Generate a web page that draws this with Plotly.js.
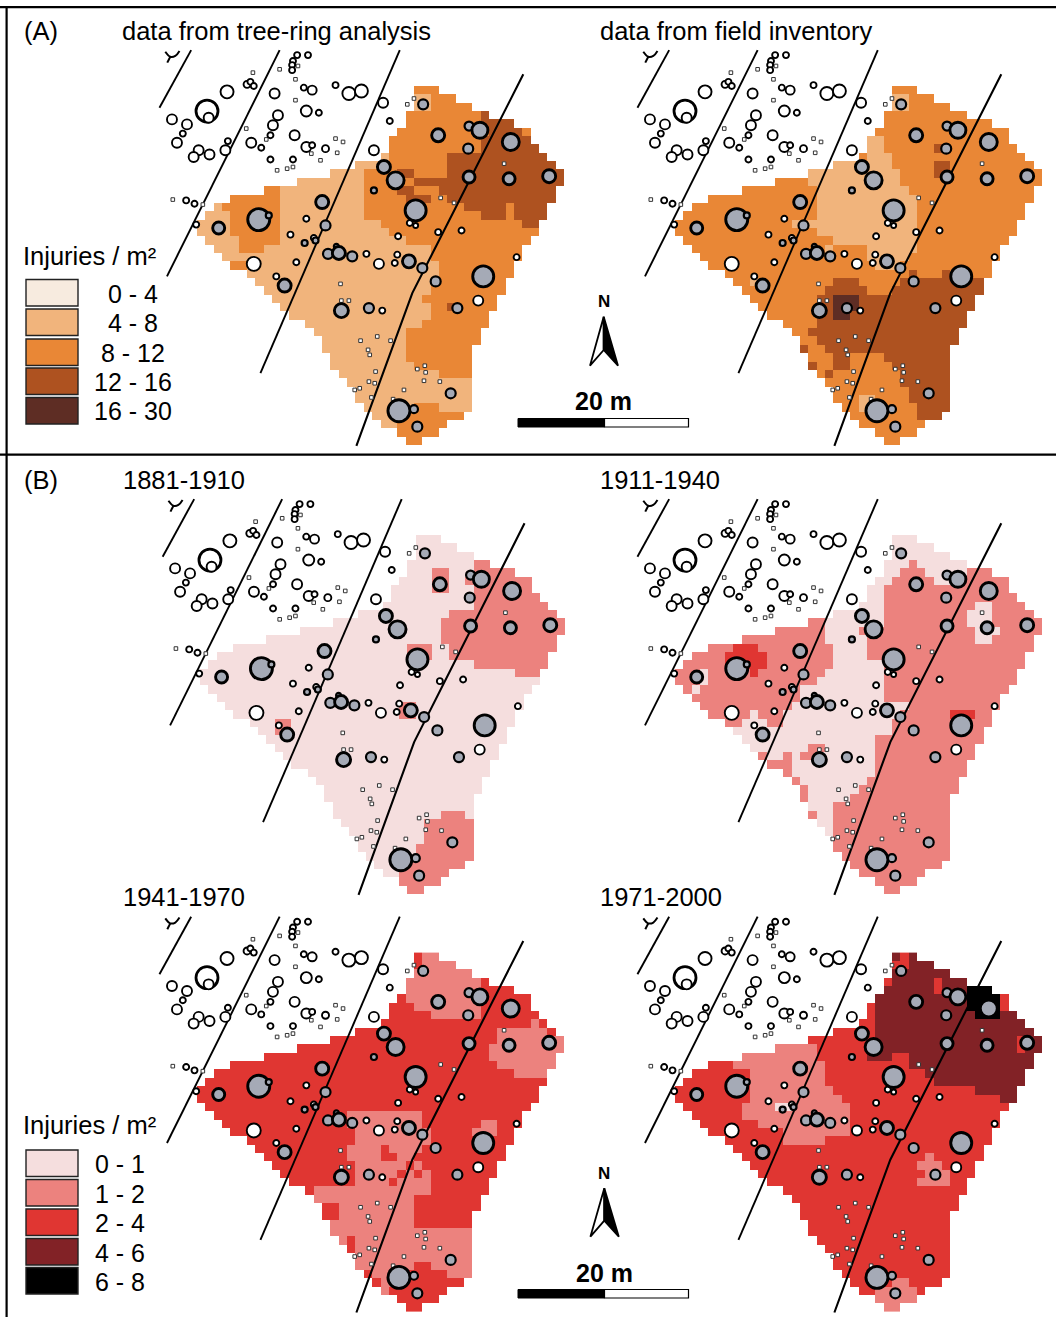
<!DOCTYPE html>
<html><head><meta charset="utf-8">
<script src="https://cdn.plot.ly/plotly-3.0.1.min.js"></script>
<style>html,body{margin:0;padding:0;background:#fff}</style></head>
<body><div id="chart"></div>
<script>
// ---- map outline: first and last+1 grid column (1 cell = 1 m) of every grid row ----
const rowLeft  = [26,26,26,25,25,24,23,23,22,19,16,12,8,4,2,1,0,0,1,2,3,4,6,7,8,9,10,11,13,14,15,15,16,16,17,18,19,19,20,21,22,24,25];
const rowRight = [29,31,33,35,38,40,40,41,42,43,44,44,43,43,42,42,41,41,40,39,39,38,38,37,37,36,36,35,35,34,34,33,33,33,33,33,33,33,33,32,30,29,27];

// ---- injury classes, as blocks of grid cells: [firstRow,lastRow,firstCol,endCol,class] ----
const treeRingBase = 1;
const treeRingBlocks = [
[0,7,0,44,2],[1,2,26,28,1],[8,9,23,44,2],[10,15,20,44,2],[16,16,22,44,2],[17,17,23,44,2],[18,18,25,44,2],
[19,20,28,44,2],[21,22,29,44,2],[23,24,28,44,2],[25,25,27,44,2],[26,27,28,44,2],[28,28,27,44,2],[29,32,25,44,2],
[33,33,26,44,2],[34,34,29,44,2],
[12,12,8,10,2],[13,13,4,10,2],[14,14,3,10,2],[15,17,4,10,2],[18,18,5,10,2],[19,19,5,8,2],[21,21,4,6,2],
[38,38,26,29,2],[39,39,24,32,2],[40,40,24,30,2],[41,41,24,29,2],[42,42,25,27,2],
[3,3,34,35,3],[4,4,34,38,3],[5,5,35,39,3],[6,7,34,44,3],[8,10,30,44,3],[11,11,26,44,3],[12,12,29,44,3],
[13,13,30,44,3],[14,14,32,44,3],[14,14,37,38,2],[15,15,34,37,3],[15,15,38,44,3],[16,16,39,44,3],
[10,10,24,26,3],[12,12,24,26,3],[13,13,25,28,3],[26,26,30,31,3]];

const fieldBase = 2;
const fieldBlocks = [
[1,2,26,28,1],[6,7,23,25,1],[8,8,23,26,1],[9,9,19,26,1],[10,10,16,27,1],[11,11,16,27,1],[12,12,17,28,1],
[13,14,17,29,1],[15,15,17,29,1],[16,16,16,29,1],[16,16,14,15,1],[17,17,17,29,1],[18,18,19,29,1],[19,19,18,19,1],[19,19,23,29,1],
[20,20,23,28,1],[21,21,24,27,1],[23,23,9,10,1],[37,38,22,24,1],
[7,7,31,32,3],[9,10,31,33,3],[22,22,28,29,3],[22,22,32,33,3],[23,23,19,22,3],[23,23,27,44,3],[24,24,18,23,3],[24,24,26,44,3],
[25,26,17,44,3],[27,28,17,44,3],[29,29,16,44,3],[30,30,17,44,3],[31,31,18,44,3],[31,31,15,16,3],[32,33,19,21,3],
[32,32,25,44,3],[33,33,26,44,3],[33,33,16,17,3],[34,34,18,19,3],[34,35,27,44,3],[36,37,28,44,3],[38,39,29,44,3],
[25,26,19,22,4],[27,27,19,21,4]];

const p1881Base = 0;
const p1881Blocks = [
[4,6,28,30,1],[5,5,32,33,1],[3,3,33,35,1],[4,4,33,38,1],[5,8,33,44,1],[9,9,30,44,1],[10,12,29,44,1],[13,14,30,44,1],
[15,15,33,44,1],[16,16,38,41,1],[13,14,25,28,1],[22,23,9,11,1],[20,21,24,26,1],
[33,33,29,32,1],[34,36,27,33,1],[37,38,26,33,1],[39,39,25,32,1],[40,41,24,30,1],[42,42,25,27,1]];

const p1911Base = 1;
const p1911Blocks = [
[0,2,0,44,0],[3,3,0,28,0],[3,3,29,44,0],[4,4,0,27,0],[4,4,30,35,0],[5,5,24,26,0],[5,5,31,34,0],[6,7,23,25,0],[8,8,22,25,0],
[9,9,19,25,0],[10,10,18,25,0],[11,11,18,22,0],[12,12,18,23,0],[13,14,19,23,0],[15,15,19,25,0],[16,16,18,25,0],[17,17,17,25,0],
[18,19,15,25,0],[20,20,14,28,0],[21,21,13,27,0],[21,21,9,10,0],[22,22,8,11,0],[22,22,13,26,0],[23,23,7,26,0],[24,24,8,24,0],
[25,25,9,24,0],[26,26,11,24,0],[27,28,14,24,0],[29,29,15,23,0],[30,30,16,22,0],[31,31,16,21,0],[32,32,16,19,0],[33,34,17,19,0],[35,35,18,19,0],
[25,25,16,18,1],[26,26,15,17,1],[26,26,13,14,1],[27,27,11,14,1],
[16,17,3,4,0],[18,18,2,3,0],[8,8,36,38,0],[9,10,35,38,0],[11,11,36,39,0],[12,12,36,38,0],
[13,13,7,10,2],[14,15,6,11,2],[16,16,9,10,2],[21,21,33,36,2]];

const p1941Base = 2;
const p1941Blocks = [
[0,0,27,29,1],[1,1,27,31,1],[2,2,26,33,1],[3,5,25,34,1],[6,6,26,34,1],[7,7,28,34,1],
[8,8,40,41,1],[9,9,36,42,1],[10,10,36,44,1],[11,12,35,44,1],[13,13,36,44,1],[14,14,38,44,1],
[19,20,18,27,1],[21,22,19,28,1],[23,24,18,22,1],[23,23,23,27,1],[24,24,24,26,1],[25,25,19,25,1],[25,25,26,27,1],
[26,26,19,24,1],[26,26,25,26,1],[26,26,27,28,1],[27,27,19,23,1],[27,27,24,28,1],[28,28,14,28,1],[29,29,14,26,1],
[30,32,17,26,1],[32,32,16,17,1],[33,37,16,33,1],[34,36,18,19,2],[38,38,21,33,1],[39,39,22,33,1],[40,40,22,33,1],[41,41,24,33,1],
[37,37,26,28,2],[38,38,25,30,2],[39,39,24,32,2],[40,40,23,31,2],[41,41,24,29,2],[42,42,25,27,2],
[20,20,34,36,1],[21,21,33,36,1]];

const p1971Base = 2;
const p1971Blocks = [
[0,0,26,27,3],[0,1,28,31,3],[2,2,26,33,3],[3,3,26,31,3],[3,3,32,35,3],[4,4,25,31,3],[4,4,32,35,3],[5,5,24,35,3],[6,6,24,36,3],
[7,10,24,44,3],[10,11,41,42,2],[11,11,24,41,3],[11,11,42,44,3],[12,12,23,26,3],[12,12,28,44,3],[13,13,28,44,3],[14,14,30,44,3],
[15,15,31,44,3],[16,16,36,41,3],[17,17,39,41,3],
[4,4,35,38,4],[5,6,35,39,4],[7,7,36,39,4],
[11,11,12,17,1],[12,12,8,17,1],[13,13,7,18,1],[14,15,9,18,1],[16,16,9,19,1],[17,17,9,20,1],[18,19,8,21,1],[20,20,10,21,1],
[21,21,13,21,1],[22,22,13,18,1],[18,18,12,14,0],
[24,24,30,31,1],[25,25,29,32,1],[26,26,30,33,1],[27,27,29,33,1],
[39,39,26,28,1],[40,41,24,29,1],[42,42,25,27,1]];

// ---- trees (x east, y south, in metres on the same grid; diameter as drawn) ----
const saplingX = [12.1,9.9,6.7,11.8,11.8,5.9,8.3,16.6,17.5,13.7,13.7,16.8,14.8,9.6,10.8,11.5,-2.9,0.7,25.2,26.0,29.2,30.8,36.8,17.2,17.3,18.2,21.6,19.6,23.2,20.5,20.7,21.4,20.6,21.3,26.4,27.3,27.4,27.2,29.1,24.8,18.9,19.5,20.9,23.5];
const saplingY = [-2.4,-2.0,-1.6,-0.8,1.7,5.1,6.4,6.3,6.7,7.0,8.1,8.0,8.9,10.1,9.9,9.7,13.6,14.2,2.2,1.5,13.4,14.0,9.3,23.7,25.7,25.7,30.0,30.5,30.5,31.6,32.2,34.2,35.4,35.6,33.9,33.5,34.3,35.3,35.4,36.4,36.4,36.2,37.3,37.5];

const openX = [12.0,13.3,11.5,11.4,11.4,6.0,6.4,6.8,3.6,1.2,1.4,-3.0,-1.2,-1.7,-2.4,3.7,3.4,0.2,-0.4,1.5,9.3,12.8,13.8,16.6,18.2,19.7,13.1,14.6,9.7,9.1,8.8,6.5,7.7,11.7,13.1,13.8,15.4,8.8,11.5,22.3,23.1,21.2,-1.3,-0.3,-0.1,13.1,11.2,14.0,11.9,9.5,6.8,25.5,26.2,28.9,31.7,24.1,20.3,24.0,23.7,22.2,33.7,38.3,21.8];
const openY = [-3.7,-3.7,-3.0,-2.5,-1.9,-0.2,-0.5,0.0,0.7,3.0,3.8,4.0,4.6,5.7,6.8,6.6,7.7,7.7,8.5,8.2,0.9,0.2,0.5,-0.1,0.9,0.6,3.0,3.2,3.5,4.7,5.9,6.8,7.4,5.9,7.3,7.1,7.5,8.8,8.8,2.0,4.2,7.7,13.7,14.1,16.6,15.9,17.8,18.2,21.1,22.8,21.3,16.4,16.7,17.5,17.3,18.0,20.1,20.2,21.2,26.9,25.7,20.5,21.3];
const openD = [6,6,6,6,6,7,6,6,13,22,10,10,10,6,10,6,10,10,10,10,10,6,9,6,13,13,11,6,10,10,6,10,6,10,10,6,7,6,6,10,6,10,6,6,6,6,6,6,6,6,14,6,5,6,6,6,6,6,6,6,10,6,10];

const injuredX = [27.1,28.9,32.6,33.9,37.6,32.5,32.6,37.4,42.2,22.4,23.8,21.2,26.2,15.0,15.4,7.4,8.6,2.6,12.9,14.2,16.7,15.7,17.0,18.6,25.4,27.0,28.6,34.3,10.5,17.3,20.6,31.2,30.4,24.2,26.0,26.4];
const injuredY = [2.2,5.9,4.8,5.3,6.7,7.5,10.9,11.1,10.8,9.7,11.3,12.5,14.9,13.9,16.7,16.0,15.5,17.0,18.8,18.5,19.2,20.1,20.0,20.4,21.0,21.8,23.4,22.8,23.9,26.9,26.6,26.6,36.8,38.9,38.7,40.8];
const injuredD = [10,13,9,17,18,10,12,12,13,13,18,6,22,13,10,23,6,12,6,6,5,10,13,10,13,10,10,22,13,14,10,10,10,23,8,10];

// ---- transect lines and the small tick mark ----
const lineAX = [-0.7,-4.5], lineAY = [-4.3,2.6];
const lineBX = [9.9,-3.6],  lineBY = [-4.3,22.8];
const lineCX = [24.3,7.6],  lineCY = [-4.3,34.4];
const lineDX = [39.1,26.4,25.8,19.1], lineDY = [-1.4,23.6,24.8,43.1];
const tickX = [-3.8,-3.2,-2.6,-2.1], tickY = [-4.1,-3.5,-3.6,-4.2];
const stemX = [-3.2,-3.56], stemY = [-3.5,-2.8];

// ---- labels ----
const titles = ["data from tree-ring analysis","data from field inventory","1881-1910","1911-1940","1941-1970","1971-2000"];
const classLabelsA = ["0 - 4","4 - 8","8 - 12","12 - 16","16 - 30"];
const classLabelsB = ["0 - 1","1 - 2","2 - 4","4 - 6","6 - 8"];
const coloursA = ["#f7ebdf","#f1b47c","#e98736","#ae5220","#5e2d24"];
const coloursB = ["#f5dede","#ec827e","#e03632","#822226","#000000"];

// ---- page geometry ----
const W = 1056, H = 1317, CELLY = 8.35;
const panels = [
 {x0:197,  cx:8.345, y0:86,    base:treeRingBase, blocks:treeRingBlocks, col:coloursA, tx:120, ty:31},
 {x0:675,  cx:8.345, y0:86,    base:fieldBase,    blocks:fieldBlocks,    col:coloursA, tx:598, ty:31},
 {x0:200,  cx:8.30,  y0:535,   base:p1881Base,    blocks:p1881Blocks,    col:coloursB, tx:121, ty:480},
 {x0:675,  cx:8.345, y0:535,   base:p1911Base,    blocks:p1911Blocks,    col:coloursB, tx:598, ty:480},
 {x0:197,  cx:8.345, y0:952.6, base:p1941Base,    blocks:p1941Blocks,    col:coloursB, tx:121, ty:896.5},
 {x0:675,  cx:8.345, y0:952.6, base:p1971Base,    blocks:p1971Blocks,    col:coloursB, tx:598, ty:896.5}];
const XMIN=-6, XMAX=45, YMIN=-6, YMAX=43.6;
const px = x => x/W, py = y => 1-y/H;
const FONT = "Liberation Sans, Arial, sans-serif";

function grid(p){
  const z=[];
  for(let r=0;r<rowLeft.length;r++){
    const row=new Array(44).fill(null);
    for(let c=rowLeft[r];c<rowRight[r];c++) row[c]=p.base;
    z.push(row);
  }
  p.blocks.forEach(b=>{
    for(let r=b[0];r<=b[1];r++) for(let c=b[2];c<b[3];c++)
      if(c>=rowLeft[r]&&c<rowRight[r]) z[r][c]=b[4];
  });
  return z;
}
function steps(cols){
  const s=[]; cols.forEach((c,i)=>{s.push([i/5,c]);s.push([(i+1)/5,c]);}); return s;
}
const cellX=[...Array(44).keys()].map(i=>i+0.5), cellY=[...Array(43).keys()].map(i=>i+0.5);

function txt(t,x,y,anchor,size,bold){
  return {text:t,x:px(x),y:py(y),xref:"paper",yref:"paper",xanchor:anchor,yanchor:"middle",
    showarrow:false,font:{family:FONT,size:size,color:"#000",weight:bold?"bold":"normal"}};
}
function rect(x0,y0,x1,y1,fill,lc,lw){
  return {type:"rect",xref:"paper",yref:"paper",x0:px(x0),x1:px(x1),y0:py(y0),y1:py(y1),fillcolor:fill,
    line:{color:lc||fill,width:lw===undefined?0:lw},layer:"above"};
}
const traces=[], layout={
  width:W,height:H,margin:{l:0,r:0,t:0,b:0},paper_bgcolor:"#fff",plot_bgcolor:"rgba(0,0,0,0)",
  showlegend:false,dragmode:false,annotations:[],shapes:[],font:{family:FONT,color:"#000"}
};
panels.forEach((p,i)=>{
  const n=i+1, xa=n==1?"x":"x"+n, ya=n==1?"y":"y"+n;
  const ln=(x,y,w,shape)=>traces.push({type:"scatter",mode:"lines",x,y,xaxis:xa,yaxis:ya,hoverinfo:"skip",
      line:{color:"#000",width:w,shape:shape||"linear"}});
  traces.push({type:"heatmap",x:cellX,y:cellY,z:grid(p),xaxis:xa,yaxis:ya,zmin:-0.5,zmax:4.5,
      colorscale:steps(p.col),showscale:false,hoverinfo:"skip",zsmooth:false,hoverongaps:false});
  ln(lineAX,lineAY,1.9); ln(lineBX,lineBY,1.9); ln(lineCX,lineCY,1.9); ln(lineDX,lineDY,2.1);
  ln(tickX,tickY,2,"spline"); ln(stemX,stemY,2);
  traces.push({type:"scatter",mode:"markers",x:saplingX,y:saplingY,xaxis:xa,yaxis:ya,hoverinfo:"skip",
      marker:{symbol:"square",size:3.6,color:"#fff",opacity:1,line:{color:"#333",width:1}}});
  traces.push({type:"scatter",mode:"markers",x:openX,y:openY,xaxis:xa,yaxis:ya,hoverinfo:"skip",
      marker:{symbol:"circle",size:openD,color:"#fff",opacity:1,line:{color:"#000",width:openD.map(d=>d>=20?2.8:1.9)}}});
  traces.push({type:"scatter",mode:"markers",x:injuredX,y:injuredY,xaxis:xa,yaxis:ya,hoverinfo:"skip",
      marker:{symbol:"circle",size:injuredD.map(d=>d>=17?d-1:d),color:"#a5aab6",opacity:1,line:{color:"#000",width:injuredD.map(d=>d>=12?2.9:2.2)}}});
  layout["xaxis"+(n==1?"":n)]={visible:false,fixedrange:true,range:[XMIN,XMAX],anchor:ya,
      domain:[px(p.x0+XMIN*p.cx),px(p.x0+XMAX*p.cx)]};
  layout["yaxis"+(n==1?"":n)]={visible:false,fixedrange:true,range:[YMAX,YMIN],anchor:xa,
      domain:[py(p.y0+YMAX*CELLY),py(p.y0+YMIN*CELLY)]};
  layout.annotations.push(txt(titles[i],p.tx,p.ty,"left",25.5));
});
// frame
layout.shapes.push(rect(0,6,W,8.2,"#000"),rect(5.5,6,7.7,H,"#000"),rect(0,453.6,W,455.8,"#000"));
// labels
layout.annotations.push(txt("(A)",22,31,"left",25.5),txt("(B)",22,480,"left",25.5));
function legend(labelY,boxes,labels,cols,cx){
  layout.annotations.push(txt("Injuries / m²",21,labelY,"left",25.5));
  boxes.forEach((b,i)=>{
    layout.shapes.push(rect(26,b,78,b+26.5,cols[i],"#222",1.4));
    layout.annotations.push(txt(labels[i],cx,b+14,"center",25));
  });
}
legend(256,[279.5,309,339,368,397.5],classLabelsA,coloursA,133);
legend(1125,[1150,1179.5,1209,1238.5,1267.5],classLabelsB,coloursB,120);
function north(xs,yN,yT,yB,yM,ts,by){
  layout.annotations.push(txt("N",xs[1],yN,"center",17,true));
  const P=(x,y)=>px(x)+" "+py(y);
  const path=pts=>"M"+pts.map(a=>P(a[0],a[1])).join("L")+"Z";
  layout.shapes.push({type:"path",xref:"paper",yref:"paper",layer:"above",path:path([[xs[1],yT],[xs[0],yB],[xs[1],yM]]),fillcolor:"#fff",line:{color:"#000",width:1.8}});
  layout.shapes.push({type:"path",xref:"paper",yref:"paper",layer:"above",path:path([[xs[1],yT],[xs[2],yB],[xs[1],yM]]),fillcolor:"#000",line:{color:"#000",width:1.8}});
  layout.annotations.push(txt("20 m",xs[1],ts,"center",25,true));
  layout.shapes.push(rect(518,by,604.5,by+8.5,"#000","#000",1),rect(604.5,by,688.5,by+8.5,"#fff","#000",1.2));
}
north([590,603.7,618],301,316.7,365.7,350,401,418.5);
north([590.4,604.3,618.8],1173,1188.3,1236.7,1220.7,1272.7,1289.5);

Plotly.newPlot("chart",traces,layout,{staticPlot:true,displayModeBar:false});
</script></body></html>
